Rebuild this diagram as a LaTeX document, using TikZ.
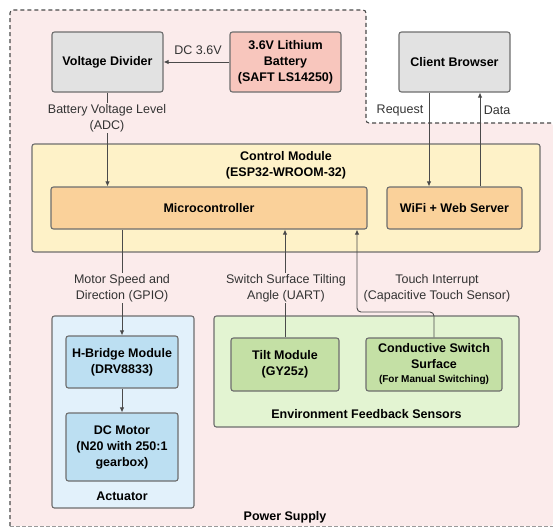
\documentclass[tikz,border=0pt]{standalone}
\usepackage{fontspec}
\setmainfont{Liberation Sans}
\usetikzlibrary{arrows.meta}
\definecolor{supplypink}{HTML}{FBEBEB}
\definecolor{edgegray}{HTML}{6E6E6E}
\definecolor{wiregray}{HTML}{4A4A4A}
\definecolor{dashgray}{HTML}{9A9A9A}
\definecolor{plaingray}{HTML}{E2E2E2}
\definecolor{batteryred}{HTML}{F8C6BD}
\definecolor{ctrlyellow}{HTML}{FEF2C8}
\definecolor{microorange}{HTML}{FAD19A}
\definecolor{actblue}{HTML}{E2F1FB}
\definecolor{modblue}{HTML}{BCDFF2}
\definecolor{envgreen}{HTML}{E3F4D2}
\definecolor{sensgreen}{HTML}{C4E0A5}

\begin{document}
\begin{tikzpicture}[x=1pt,y=-1pt,
  box/.style={draw=edgegray, line width=1.1pt, rounded corners=2.5pt, align=center,
    font=\fontsize{12.5}{16}\selectfont\bfseries, inner sep=1pt},
  group/.style={box, inner sep=0pt},
  title/.style={align=center, font=\fontsize{12.5}{16}\selectfont\bfseries},
  lbl/.style={align=center, font=\fontsize{12.5}{16}\selectfont, text=black!80, inner sep=1pt},
  link/.style={draw=wiregray, line width=0.9pt},
  arr/.style={link, -{Latex[length=5pt,width=4.5pt]}}]
  \useasboundingbox (0,0) rectangle (553,528);

  % power supply area
  \fill[supplypink, rounded corners=3pt] (10,10) -- (366,10) -- (366,123) -- (553,123)
    -- (553,526) -- (10,526) -- cycle;
  \draw[wiregray, line width=1.1pt, dash pattern=on 4pt off 3pt, rounded corners=3pt]
    (10,526) -- (10,10) -- (366,10) -- (366,123) -- (553,123);
  \draw[dashgray, line width=0.8pt, dash pattern=on 4pt off 2pt] (10,526) -- (553,526);
  \node[title] (supply) at (285,517) {Power Supply};

  % top row
  \node[box, fill=plaingray, minimum width=111, minimum height=60] (divider) at (107.5,62) {Voltage Divider};
  \node[box, fill=batteryred, minimum width=111, minimum height=60] (battery) at (285.5,62) {3.6V Lithium\\Battery\\(SAFT LS14250)};
  \node[box, fill=plaingray, minimum width=111, minimum height=60] (client) at (454.5,62) {Client Browser};

  % control module
  \node[group, fill=ctrlyellow, minimum width=508, minimum height=108] (ctrl) at (286,198) {};
  \node[title] (ctrltitle) at (286,165) {Control Module\\(ESP32-WROOM-32)};
  \node[box, fill=microorange, minimum width=316, minimum height=42] (micro) at (209,208) {Microcontroller};
  \node[box, fill=microorange, minimum width=135, minimum height=42] (wifi) at (454.5,208) {WiFi + Web Server};

  % actuator
  \node[group, fill=actblue, minimum width=142, minimum height=192] (act) at (123,412) {};
  \node[box, fill=modblue, minimum width=112, minimum height=52] (hbridge) at (122,362) {H-Bridge Module\\(DRV8833)};
  \node[box, fill=modblue, minimum width=112, minimum height=68] (motor) at (122,447) {DC Motor\\(N20 with 250:1\\gearbox)};
  \node[title] (acttitle) at (122,496) {Actuator};

  % sensors
  \node[group, fill=envgreen, minimum width=305, minimum height=111] (env) at (366.5,371.5) {};
  \node[box, fill=sensgreen, minimum width=108, minimum height=53] (tilt) at (285,364.5) {Tilt Module\\(GY25z)};
  \node[box, fill=sensgreen, minimum width=136, minimum height=53] (cond) at (434,364.5)
    {Conductive Switch\\Surface\\[-2pt]{\fontsize{10}{12}\selectfont(For Manual Switching)}};
  \node[title] (envtitle) at (366.5,414) {Environment Feedback Sensors};

  % connectors
  \draw[arr] (battery) -- (divider);
  \node[lbl] (dclbl) at (198,50) {DC 3.6V};
  \draw[arr] (divider.south) -- (divider.south |- micro.north);
  \node[lbl, fill=supplypink] (adclbl) at (107,118) {Battery Voltage Level\\(ADC)};
  \draw[arr] ([xshift=-25.5]client.south) -- ([xshift=-25.5]wifi.north);
  \draw[arr] ([xshift=25.5]wifi.north) -- ([xshift=25.5]client.south);
  \node[lbl] (reqlbl) at (400,110) {Request};
  \node[lbl] (datalbl) at (497,110) {Data};
  \draw[arr] (micro.south -| hbridge.north) -- (hbridge.north);
  \node[lbl, fill=supplypink] (gpiolbl) at (122,288) {Motor Speed and\\Direction (GPIO)};
  \draw[arr] (hbridge) -- (motor);
  \draw[arr] (tilt.north) -- (tilt.north |- micro.south);
  \node[lbl, fill=supplypink] (uartlbl) at (286,288) {Switch Surface Tilting\\Angle (UART)};
  \coordinate (touchbend) at (357,312);
  \draw[arr, rounded corners=4pt] (cond.north) |- (touchbend) -- (touchbend |- micro.south);
  \node[lbl] (touchlbl) at (437,288) {Touch Interrupt\\(Capacitive Touch Sensor)};

\end{tikzpicture}
\end{document}
